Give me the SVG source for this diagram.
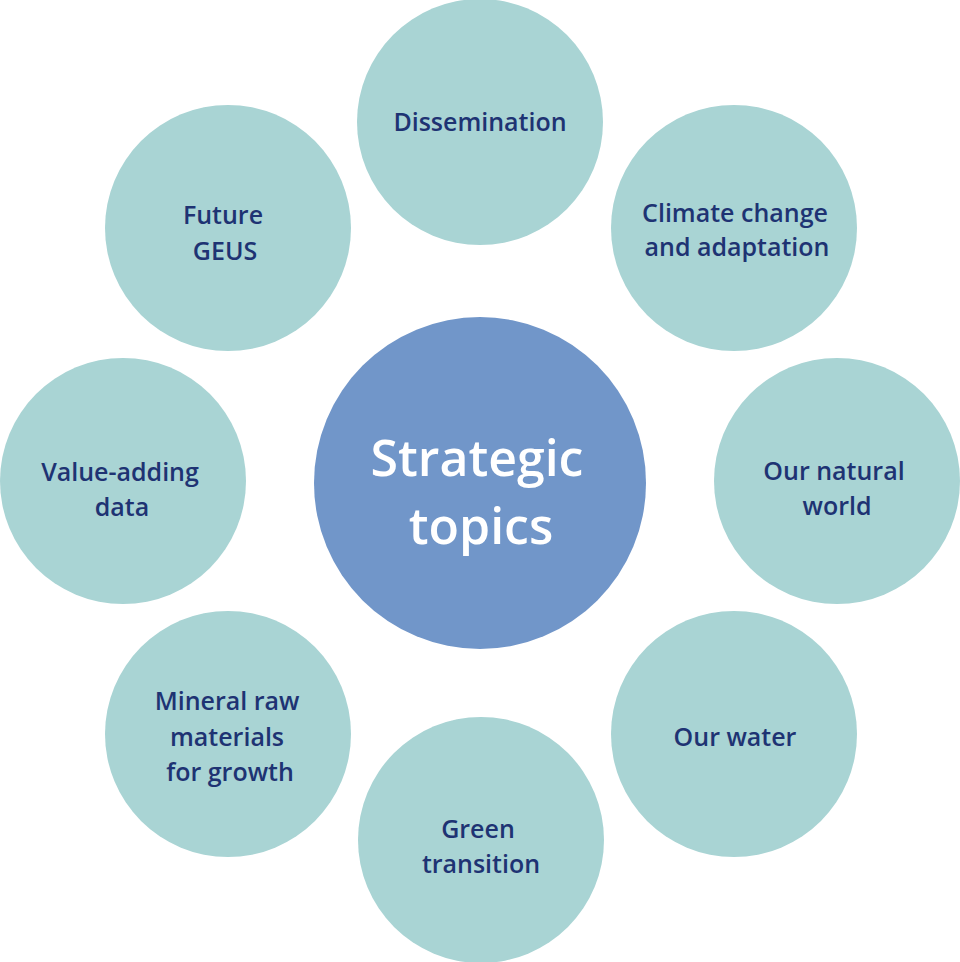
<svg xmlns="http://www.w3.org/2000/svg" width="960" height="962" viewBox="0 0 960 962">
<style>
.o{fill:#a9d4d4}
.t{font-family:"Open Sans","Noto Sans",sans-serif;font-size:25px;font-weight:600;fill:#1e3373;text-anchor:middle}
.c{font-family:"Open Sans","Noto Sans",sans-serif;font-size:50px;font-weight:600;fill:#ffffff;text-anchor:middle}
</style>
<rect width="960" height="962" fill="#ffffff"/>
<g id="connectors"></g>
<g id="center"><circle cx="480" cy="483" r="166" fill="#7196c9"/><text class="c" x="477" y="476">Strategic</text><text class="c" x="481" y="544">topics</text></g>
<g id="dissemination"><circle class="o" cx="480" cy="122" r="123"/><text class="t" x="480" y="131">Dissemination</text></g>
<g id="climate"><circle class="o" cx="734" cy="228" r="123"/><text class="t" x="735" y="222">Climate change</text><text class="t" x="737" y="256">and adaptation</text></g>
<g id="natural"><circle class="o" cx="837" cy="481" r="123"/><text class="t" x="834" y="480">Our natural</text><text class="t" x="837" y="515">world</text></g>
<g id="water"><circle class="o" cx="734" cy="734" r="123"/><text class="t" x="735" y="746">Our water</text></g>
<g id="green"><circle class="o" cx="481" cy="840" r="123"/><text class="t" x="478" y="838">Green</text><text class="t" x="481" y="873">transition</text></g>
<g id="mineral"><circle class="o" cx="228" cy="734" r="123"/><text class="t" x="227" y="710">Mineral raw</text><text class="t" x="227" y="746">materials</text><text class="t" x="230" y="781">for growth</text></g>
<g id="value"><circle class="o" cx="123" cy="481" r="123"/><text class="t" x="120" y="481">Value-adding</text><text class="t" x="122" y="516">data</text></g>
<g id="future"><circle class="o" cx="228" cy="228" r="123"/><text class="t" x="223" y="224">Future</text><text class="t" x="225" y="260">GEUS</text></g>
</svg>
